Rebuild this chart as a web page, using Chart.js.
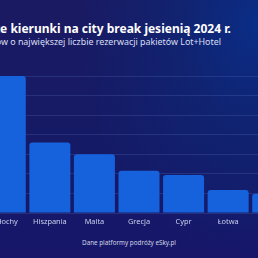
<!DOCTYPE html>
<html><head><meta charset="utf-8">
<script src="https://cdn.jsdelivr.net/npm/chart.js@4/dist/chart.umd.min.js"></script>
<style>
html,body{margin:0;padding:0;width:258px;height:258px;overflow:hidden;}
body{position:relative;font-family:"Noto Sans",sans-serif;
background:radial-gradient(ellipse 70% 90% at 100% 10%, #0a2d86 0%, rgba(12,40,120,0.6) 45%, rgba(20,24,100,0) 100%), linear-gradient(180deg,#1a1a62 0%,#151a66 60%,#17166a 100%);}
#title{position:absolute;right:27px;top:20px;white-space:nowrap;color:#fff;font-weight:bold;font-size:12px;line-height:18px;}
#sub{position:absolute;right:37px;top:35px;white-space:nowrap;color:#d8def5;font-size:8.9px;line-height:14px;}
#foot{position:absolute;left:0;width:258px;top:238px;text-align:center;color:#d0d4e4;font-size:6.3px;line-height:10px;}
#wrap{position:absolute;left:-17px;top:70px;width:312px;height:160px;}
</style></head>
<body>
<div id="title">Najpopularniejsze kierunki na city break jesienią 2024 r.</div>
<div id="sub">10 krajów o największej liczbie rezerwacji pakietów Lot+Hotel</div>
<div id="wrap"><canvas id="c"></canvas></div>
<div id="foot">Dane platformy podróży eSky.pl</div>
<script>
const categories = ["Włochy","Hiszpania","Malta","Grecja","Cypr","Łotwa","Czechy"];
const shares = [35, 18, 15, 10.8, 9.7, 5.9, 4.9];
const yTicks = [0,5,10,15,20,25,30,35];

new Chart(document.getElementById('c'), {
  type:'bar',
  data:{labels:categories,datasets:[{data:shares,backgroundColor:'#1662dc',borderRadius:{topLeft:3,topRight:3},borderSkipped:'bottom',categoryPercentage:0.92,barPercentage:1}]},
  options:{
    responsive:true,maintainAspectRatio:false,animation:false,
    layout:{padding:{top:6,bottom:0,left:0,right:0}},
    plugins:{legend:{display:false},tooltip:{enabled:false}},
    scales:{
      x:{grid:{display:false,drawTicks:false},border:{display:false},
         ticks:{color:'#c8d0ee',font:{family:'Noto Sans',size:7.4},padding:4,maxRotation:0,autoSkip:false},
         afterFit:s=>{s.height=17;}},
      y:{display:true,min:0,max:35,
         afterBuildTicks:s=>{s.ticks=yTicks.map(v=>({value:v}));},
         ticks:{display:false},border:{display:false},
         grid:{color:'rgba(120,150,230,0.18)',lineWidth:1,drawTicks:false},
         afterFit:s=>{s.width=0;}}
    }
  }
});
</script>
</body></html>
